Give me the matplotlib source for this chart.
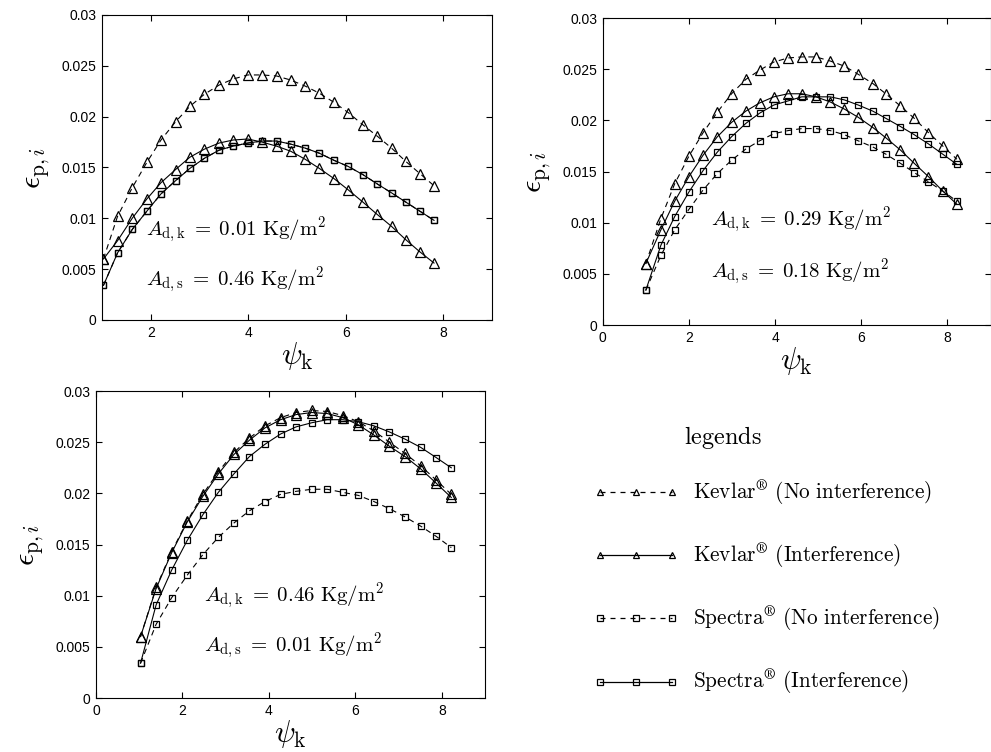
import matplotlib
matplotlib.use("Agg")
import matplotlib.pyplot as plt
from matplotlib.lines import Line2D

plt.rcParams["mathtext.fontset"] = "cm"
plt.rcParams["font.family"] = ["Liberation Sans", "DejaVu Sans"]

# ---- panel 1: A_d,k = 0.01, A_d,s = 0.46
x1 = [1.03, 1.32, 1.62, 1.92, 2.21, 2.51, 2.80, 3.10, 3.40, 3.69, 3.99, 4.28,
      4.58, 4.87, 5.17, 5.46, 5.76, 6.05, 6.35, 6.64, 6.94, 7.23, 7.52, 7.81]
kev_ni_1 = [0.0060, 0.0102, 0.0130, 0.0155, 0.0177, 0.0195, 0.0210, 0.0222,
            0.0231, 0.0237, 0.0241, 0.0241, 0.0240, 0.0236, 0.0230, 0.0223,
            0.0214, 0.0204, 0.0192, 0.0181, 0.0169, 0.0156, 0.0144, 0.0132]
kev_i_1 = [0.0060, 0.0078, 0.0100, 0.0119, 0.0135, 0.0148, 0.0160, 0.0168,
           0.0174, 0.0177, 0.0178, 0.0175, 0.0171, 0.0166, 0.0158, 0.0149,
           0.0139, 0.0128, 0.0116, 0.0104, 0.0092, 0.0079, 0.0067, 0.0056]
spe_ni_1 = [0.0034, 0.0066, 0.0089, 0.0107, 0.0124, 0.0137, 0.0149, 0.0159,
            0.0167, 0.0171, 0.0174, 0.0176, 0.0176, 0.0173, 0.0169, 0.0164,
            0.0157, 0.0151, 0.0143, 0.0134, 0.0125, 0.0116, 0.0107, 0.0098]
spe_i_1 = [0.0034, 0.0066, 0.0089, 0.0107, 0.0124, 0.0137, 0.0149, 0.0159,
           0.0167, 0.0171, 0.0174, 0.0176, 0.0176, 0.0173, 0.0169, 0.0164,
           0.0157, 0.0151, 0.0143, 0.0134, 0.0125, 0.0116, 0.0107, 0.0098]

# ---- panel 2: A_d,k = 0.29, A_d,s = 0.18
x2 = [1.00, 1.35, 1.67, 2.00, 2.33, 2.66, 2.99, 3.32, 3.64, 3.97, 4.30, 4.62,
      4.95, 5.28, 5.61, 5.93, 6.27, 6.57, 6.91, 7.23, 7.56, 7.89, 8.22]
kev_ni_2 = [0.0060, 0.0104, 0.0138, 0.0165, 0.0188, 0.0208, 0.0226, 0.0240,
            0.0249, 0.0257, 0.0261, 0.0262, 0.0262, 0.0258, 0.0253, 0.0245,
            0.0236, 0.0226, 0.0214, 0.0202, 0.0188, 0.0175, 0.0162]
kev_i_2 = [0.0060, 0.0093, 0.0121, 0.0145, 0.0166, 0.0184, 0.0198, 0.0209,
           0.0217, 0.0223, 0.0226, 0.0226, 0.0223, 0.0218, 0.0211, 0.0203,
           0.0193, 0.0183, 0.0171, 0.0158, 0.0145, 0.0131, 0.0118]
spe_ni_2 = [0.0034, 0.0068, 0.0093, 0.0113, 0.0132, 0.0148, 0.0161, 0.0172,
            0.0180, 0.0187, 0.0190, 0.0192, 0.0192, 0.0190, 0.0186, 0.0180,
            0.0174, 0.0167, 0.0158, 0.0149, 0.0140, 0.0131, 0.0121]
spe_i_2 = [0.0034, 0.0078, 0.0106, 0.0130, 0.0151, 0.0169, 0.0184, 0.0197,
           0.0207, 0.0215, 0.0219, 0.0223, 0.0223, 0.0223, 0.0220, 0.0215,
           0.0209, 0.0202, 0.0194, 0.0186, 0.0177, 0.0167, 0.0157]

# ---- panel 3: A_d,k = 0.46, A_d,s = 0.01
x3 = [1.03, 1.39, 1.75, 2.11, 2.47, 2.83, 3.19, 3.55, 3.91, 4.27, 4.63, 4.99,
      5.35, 5.71, 6.07, 6.43, 6.79, 7.15, 7.51, 7.87, 8.22]
kev_ni_3 = [0.0060, 0.0108, 0.0143, 0.0173, 0.0199, 0.0221, 0.0240, 0.0254,
            0.0266, 0.0274, 0.0279, 0.0281, 0.0280, 0.0276, 0.0270, 0.0261,
            0.0250, 0.0239, 0.0227, 0.0213, 0.0199]
kev_i_3 = [0.0060, 0.0107, 0.0142, 0.0172, 0.0197, 0.0219, 0.0238, 0.0252,
           0.0264, 0.0272, 0.0277, 0.0279, 0.0278, 0.0274, 0.0267, 0.0257,
           0.0246, 0.0236, 0.0224, 0.0210, 0.0196]
spe_ni_3 = [0.0034, 0.0072, 0.0098, 0.0120, 0.0140, 0.0157, 0.0171, 0.0183,
            0.0192, 0.0199, 0.0202, 0.0204, 0.0204, 0.0201, 0.0198, 0.0192,
            0.0185, 0.0177, 0.0168, 0.0158, 0.0147]
spe_i_3 = [0.0034, 0.0091, 0.0125, 0.0154, 0.0179, 0.0201, 0.0219, 0.0236,
           0.0248, 0.0258, 0.0265, 0.0269, 0.0272, 0.0272, 0.0270, 0.0266,
           0.0260, 0.0253, 0.0245, 0.0235, 0.0225]

panels = [
    (x1, kev_ni_1, kev_i_1, spe_ni_1, spe_i_1, "0.01", "0.46", (1, 9), [2, 4, 6, 8]),
    (x2, kev_ni_2, kev_i_2, spe_ni_2, spe_i_2, "0.29", "0.18", (0, 9), [0, 2, 4, 6, 8]),
    (x3, kev_ni_3, kev_i_3, spe_ni_3, spe_i_3, "0.46", "0.01", (0, 9), [0, 2, 4, 6, 8]),
]
# axes rectangles [left, bottom, width, height], figure fractions
rects = [[0.1029, 0.5745, 0.3936, 0.4056],
         [0.6082, 0.5678, 0.3913, 0.4082],
         [0.0969, 0.0718, 0.3925, 0.4082]]
txt_pos = [(0.112, 0.295, 0.131), (0.278, 0.342, 0.173), (0.277, 0.330, 0.167)]
yticks = [0, 0.005, 0.01, 0.015, 0.02, 0.025, 0.03]
ylabels = ["0", "0.005", "0.01", "0.015", "0.02", "0.025", "0.03"]

dash = (0, (5, 4))
tri = dict(marker="^", ms=7, mfc="none", mec="k", mew=0.9, color="k", lw=0.8)
sq = dict(marker="s", ms=4.5, mfc="none", mec="k", mew=0.9, color="k", lw=0.8)

fig = plt.figure(figsize=(9.91, 7.52), dpi=100)

for (x, kni, ki, sni, si, ak, as_, xl, xt), r, tp in zip(panels, rects, txt_pos):
    ax = fig.add_axes(r)
    ax.plot(x, kni, ls=dash, **tri)
    ax.plot(x, ki, ls="-", **tri)
    ax.plot(x, sni, ls=dash, **sq)
    ax.plot(x, si, ls="-", **sq)
    ax.set_xlim(*xl)
    ax.set_ylim(0, 0.03)
    ax.set_xticks(xt)
    ax.set_yticks(yticks)
    ax.set_yticklabels(ylabels)
    ax.tick_params(direction="in", top=True, right=True, length=4,
                   labelsize=10, pad=4)
    ax.set_xlabel(r"$\psi_{\mathrm{k}}$", fontsize=22, labelpad=0)
    ax.set_ylabel(r"$\epsilon_{\mathrm{p},i}$", fontsize=22, labelpad=7)
    ax.text(tp[0], tp[1], r"$A_{\mathrm{d,k}}\;=\;%s\ \mathrm{Kg/m^2}$" % ak,
            transform=ax.transAxes, fontsize=15, va="center", ha="left")
    ax.text(tp[0], tp[2], r"$A_{\mathrm{d,s}}\;=\;%s\ \mathrm{Kg/m^2}$" % as_,
            transform=ax.transAxes, fontsize=15, va="center", ha="left")

# legend panel
leg_tri = dict(marker="^", ms=5, mfc="none", mec="k", mew=0.9, color="k", lw=0.9)
leg_sq = dict(marker="s", ms=3.8, mfc="none", mec="k", mew=0.9, color="k", lw=0.9)
handles = [Line2D([], [], ls=(0, (4, 4)), **leg_tri),
           Line2D([], [], ls="-", **leg_tri),
           Line2D([], [], ls=(0, (4, 4)), **leg_sq),
           Line2D([], [], ls="-", **leg_sq)]
labels = [r"$\mathrm{Kevlar}^{\circledR}\ \mathrm{(No\ interference)}$",
          r"$\mathrm{Kevlar}^{\circledR}\ \mathrm{(Interference)}$",
          r"$\mathrm{Spectra}^{\circledR}\ \mathrm{(No\ interference)}$",
          r"$\mathrm{Spectra}^{\circledR}\ \mathrm{(Interference)}$"]
fig.legend(handles, labels, loc="upper left", bbox_to_anchor=(0.599, 0.364),
           frameon=False, numpoints=3, handlelength=4.0, handletextpad=0.7,
           labelspacing=1.6, prop={"size": 15.3}, borderaxespad=0, borderpad=0)
fig.text(0.7296, 0.4176, r"$\mathrm{legends}$", fontsize=17.5, ha="center", va="center")

fig.savefig("out.png", dpi=100)
